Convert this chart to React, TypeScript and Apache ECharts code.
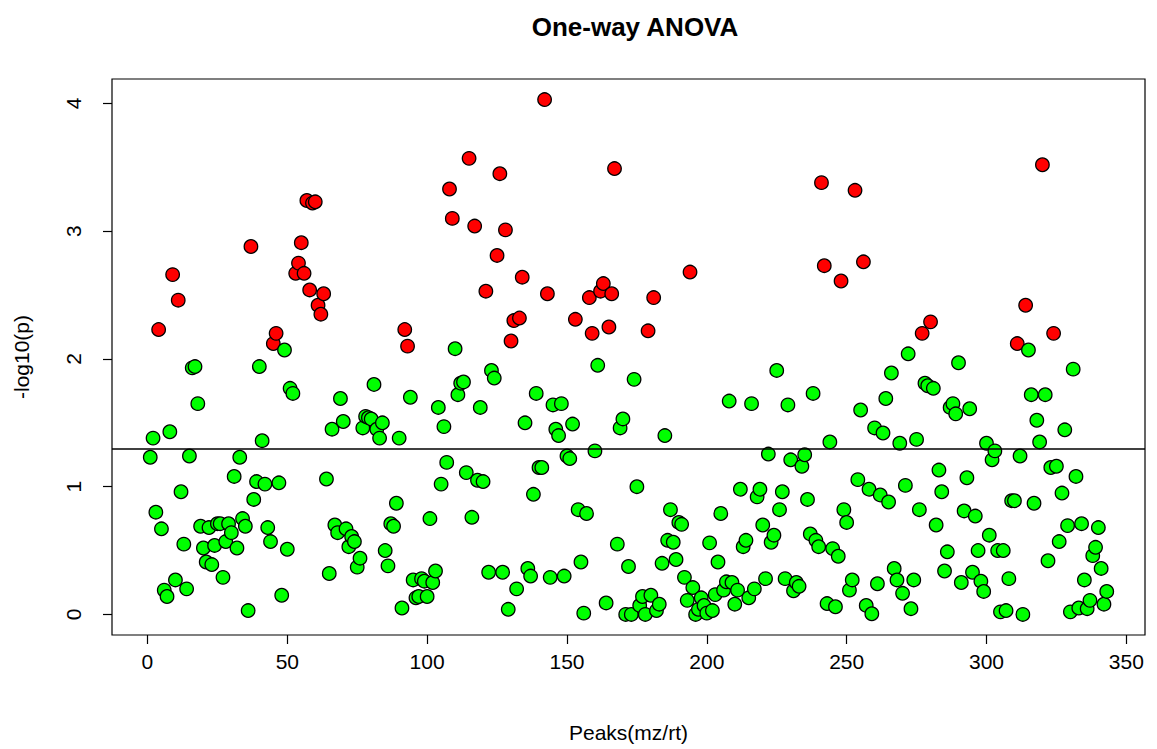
import React, { useEffect, useRef } from "react";
import * as echarts from "echarts";

// -log10(p) for each peak, in peak order (peak index = position + 1)
const logP: number[] = [
  1.23, 1.38, 0.80, 2.23, 0.67, 0.19, 0.14, 1.43, 2.66, 0.27,
  2.46, 0.96, 0.55, 0.20, 1.24, 1.93, 1.94, 1.65, 0.69, 0.52,
  0.41, 0.68, 0.39, 0.54, 0.71, 0.71, 0.29, 0.57, 0.71, 0.64,
  1.08, 0.52, 1.23, 0.75, 0.69, 0.03, 2.88, 0.90, 1.04, 1.94,
  1.36, 1.02, 0.68, 0.57, 2.12, 2.20, 1.03, 0.15, 2.07, 0.51,
  1.77, 1.73, 2.67, 2.75, 2.91, 2.67, 3.24, 2.54, 3.22, 3.23,
  2.42, 2.35, 2.51, 1.06, 0.32, 1.45, 0.70, 0.64, 1.69, 1.51,
  0.67, 0.53, 0.61, 0.57, 0.37, 0.44, 1.46, 1.55, 1.54, 1.53,
  1.80, 1.45, 1.38, 1.50, 0.50, 0.38, 0.71, 0.69, 0.87, 1.38,
  0.05, 2.23, 2.10, 1.70, 0.27, 0.13, 0.14, 0.28, 0.26, 0.14,
  0.75, 0.25, 0.34, 1.62, 1.02, 1.47, 1.19, 3.33, 3.10, 2.08,
  1.72, 1.81, 1.82, 1.11, 3.57, 0.76, 3.04, 1.05, 1.62, 1.04,
  2.53, 0.33, 1.91, 1.85, 2.81, 3.45, 0.33, 3.01, 0.04, 2.14,
  2.30, 0.20, 2.32, 2.64, 1.50, 0.36, 0.30, 0.94, 1.73, 1.15,
  1.15, 4.03, 2.51, 0.29, 1.64, 1.45, 1.40, 1.65, 0.30, 1.24,
  1.22, 1.49, 2.31, 0.82, 0.41, 0.01, 0.79, 2.48, 2.20, 1.28,
  1.95, 2.53, 2.59, 0.09, 2.25, 2.51, 3.49, 0.55, 1.46, 1.53,
  0.00, 0.375, 0.00, 1.84, 1.00, 0.07, 0.14, 0.00, 2.22, 0.15,
  2.48, 0.03, 0.08, 0.40, 1.40, 0.58, 0.82, 0.565, 0.43, 0.72,
  0.705, 0.29, 0.11, 2.68, 0.21, 0.00, 0.04, 0.13, 0.07, 0.01,
  0.56, 0.03, 0.155, 0.41, 0.79, 0.19, 0.255, 1.67, 0.25, 0.08,
  0.19, 0.98, 0.53, 0.58, 0.13, 1.65, 0.20, 0.92, 0.98, 0.70,
  0.28, 1.255, 0.565, 0.62, 1.91, 0.82, 0.96, 0.28, 1.64, 1.21,
  0.185, 0.25, 0.22, 1.16, 1.25, 0.90, 0.63, 1.73, 0.58, 0.53,
  3.38, 2.73, 0.085, 1.35, 0.515, 0.06, 0.455, 2.61, 0.82, 0.72,
  0.19, 0.27, 3.32, 1.055, 1.60, 2.76, 0.07, 0.98, 0.005, 1.46,
  0.24, 0.935, 1.42, 1.69, 0.88, 1.89, 0.36, 0.27, 1.34, 0.165,
  1.01, 2.04, 0.045, 0.27, 1.37, 0.82, 2.20, 1.81, 1.79, 2.29,
  1.77, 0.70, 1.13, 0.96, 0.34, 0.49, 1.62, 1.65, 1.57, 1.97,
  0.25, 0.81, 1.07, 1.61, 0.33, 0.77, 0.50, 0.26, 0.18, 1.34,
  0.62, 1.21, 1.28, 0.50, 0.02, 0.50, 0.03, 0.28, 0.89, 0.89,
  2.12, 1.24, 0.00, 2.42, 2.07, 1.72, 0.87, 1.52, 1.35, 3.52,
  1.72, 0.42, 1.15, 2.20, 1.16, 0.57, 0.95, 1.445, 0.695, 0.02,
  1.92, 1.08, 0.05, 0.71, 0.27, 0.045, 0.11, 0.46, 0.525, 0.68,
  0.36, 0.08, 0.18,
];

// peaks drawn in red (significant)
const significantPeaks: number[] = [
  4, 9, 11, 37, 45, 46, 53, 54, 55, 56, 57, 58, 59, 60, 61, 62, 63,
  92, 93, 108, 109, 115, 117, 121, 125, 126, 128, 130, 131, 133, 134,
  142, 143, 153, 158, 159, 162, 163, 165, 166, 167, 179, 181, 194,
  241, 242, 248, 253, 256, 277, 280, 311, 314, 320, 324,
];

const xTicks: number[] = [0, 50, 100, 150, 200, 250, 300, 350];
const yTicks: number[] = [0, 1, 2, 3, 4];
const threshold = 1.3;

const titleText = "One-way ANOVA";
const xTitle = "Peaks(mz/rt)";
const yTitle = "-log10(p)";

export default function App() {
  const ref = useRef<HTMLDivElement>(null);

  useEffect(() => {
    if (!ref.current) return;
    const chart = echarts.init(ref.current, undefined, { renderer: "svg" });
    const n = logP.length;
    const sig = new Set(significantPeaks);
    const xPad = 0.04 * (n - 1);
    const yMaxData = Math.max(...logP);
    const yMinData = Math.min(...logP);
    const yPad = 0.04 * (yMaxData - yMinData);
    const font = "'Liberation Sans', Arial, sans-serif";

    const data = logP.map((v, i) => ({
      value: [i + 1, v],
      itemStyle: { color: sig.has(i + 1) ? "#ff0000" : "#00ff00" },
    }));

    chart.setOption({
      animation: false,
      backgroundColor: "#ffffff",
      title: {
        text: titleText,
        left: 630,
        top: 9,
        textAlign: "center",
        textStyle: { fontFamily: font, fontSize: 26, fontWeight: "bold", color: "#000" },
      },
      grid: {
        left: 112,
        right: 12,
        top: 79,
        bottom: 114,
        show: true,
        borderColor: "#000",
        borderWidth: 1.2,
        backgroundColor: "transparent",
      },
      xAxis: {
        type: "value",
        min: 1 - xPad,
        max: n + xPad,
        name: xTitle,
        nameLocation: "middle",
        nameGap: 87,
        nameTextStyle: { fontFamily: font, fontSize: 21, color: "#000" },
        axisLine: { show: false, onZero: false },
        splitLine: { show: false },
        axisTick: {
          show: true,
          length: 9,
          customValues: xTicks,
          lineStyle: { color: "#000", width: 1.2 },
        },
        axisLabel: {
          customValues: xTicks,
          margin: 16,
          fontFamily: font,
          fontSize: 21,
          color: "#000",
        },
      },
      yAxis: {
        type: "value",
        min: yMinData - yPad,
        max: yMaxData + yPad,
        name: yTitle,
        nameLocation: "middle",
        nameGap: 80,
        nameRotate: 90,
        nameTextStyle: { fontFamily: font, fontSize: 21, color: "#000" },
        axisLine: { show: false, onZero: false },
        splitLine: { show: false },
        axisTick: {
          show: true,
          length: 9,
          customValues: yTicks,
          lineStyle: { color: "#000", width: 1.2 },
        },
        axisLabel: {
          customValues: yTicks,
          rotate: 90,
          margin: 28,
          fontFamily: font,
          fontSize: 21,
          color: "#000",
        },
      },
      series: [
        {
          type: "scatter",
          symbol: "circle",
          symbolSize: 13.5,
          itemStyle: { borderColor: "#000", borderWidth: 1.3, opacity: 1 },
          data,
          markLine: {
            silent: true,
            symbol: ["none", "none"],
            label: { show: false },
            lineStyle: { color: "#000", type: "solid", width: 1.5 },
            data: [{ yAxis: threshold }],
          },
        },
      ],
    });

    return () => chart.dispose();
  }, []);

  return (
    <div
      ref={ref}
      style={{ position: "fixed", left: 0, top: 0, width: 1157, height: 749, background: "#fff" }}
    />
  );
}
